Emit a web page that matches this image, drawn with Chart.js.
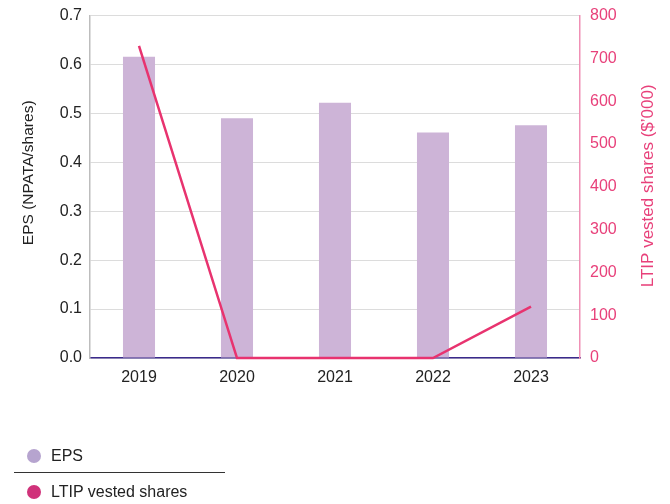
<!DOCTYPE html>
<html>
<head>
<meta charset="utf-8">
<script src="https://cdn.jsdelivr.net/npm/chart.js@4/dist/chart.umd.min.js"></script>
<style>
  html, body { margin: 0; padding: 0; background: #fff; }
  body { width: 670px; height: 504px; position: relative; overflow: hidden; font-family: "Liberation Sans", Arial, sans-serif; }
  #wrap { position: absolute; left: 0; top: -4px; width: 670px; height: 404px; }
  .legend { position: absolute; left: 0; top: 0; width: 670px; height: 504px; pointer-events: none; }
  .item { position: absolute; left: 27px; font-size: 16px; color: #222; display: flex; align-items: center; }
  .dot { width: 14px; height: 14px; border-radius: 50%; margin-right: 10px; }
  .sep { position: absolute; left: 14px; top: 472px; width: 211px; height: 1px; background: #333; }
</style>
</head>
<body>
<div id="wrap"><canvas id="c" width="670" height="404"></canvas></div>
<div class="legend">
  <div class="item" style="top:447px"><span class="dot" style="background:#b6a4cf"></span>EPS</div>
  <div class="sep"></div>
  <div class="item" style="top:483px"><span class="dot" style="background:#d0327a"></span>LTIP vested shares</div>
</div>
<script>
const years = ['2019', '2020', '2021', '2022', '2023'];
const eps = [0.616, 0.490, 0.522, 0.461, 0.476];
const ltipVested = [729, 0, 0, 0, 120];

const leftTitle = 'EPS (NPATA/shares)';
const rightTitle = 'LTIP vested shares ($\u2019000)';

const font = { family: '"Liberation Sans", Arial, sans-serif', size: 16 };

// Both axis titles read bottom-to-top, so they are painted here rather than by the scales.
const axisTitles = {
  id: 'axisTitles',
  afterDraw(chart) {
    const ctx = chart.ctx;
    const area = chart.chartArea;
    const mid = (area.top + area.bottom) / 2;
    ctx.save();
    ctx.textAlign = 'center';
    ctx.textBaseline = 'middle';
    [[29, mid - 14, '#222', 15.5, leftTitle], [648, mid - 1, '#e8407a', 17, rightTitle]].forEach(([x, y, c, sz, t]) => {
      ctx.save();
      ctx.translate(x, y);
      ctx.rotate(-Math.PI / 2);
      ctx.font = sz + 'px ' + font.family;
      ctx.fillStyle = c;
      ctx.fillText(t, 0, 0);
      ctx.restore();
    });
    ctx.restore();
  }
};

new Chart(document.getElementById('c'), {
  data: {
    labels: years,
    datasets: [
      {
        type: 'line',
        label: 'LTIP vested shares',
        data: ltipVested,
        yAxisID: 'yR',
        borderColor: '#e8336f',
        borderWidth: 2.5,
        pointRadius: 0,
        tension: 0,
        clip: false,
        order: 0
      },
      {
        type: 'bar',
        label: 'EPS',
        data: eps,
        yAxisID: 'yL',
        backgroundColor: '#cdb4d7',
        borderWidth: 0,
        categoryPercentage: 1,
        barPercentage: 0.327,
        order: 1
      }
    ]
  },
  plugins: [axisTitles],
  options: {
    responsive: false,
    animation: false,
    events: [],
    layout: { padding: { left: 0, right: 0, top: 1, bottom: 0 } },
    plugins: { legend: { display: false }, tooltip: { enabled: false } },
    scales: {
      x: {
        offset: true,
        grid: { display: false, drawTicks: false },
        border: { color: '#3b2a8c', width: 1.5 },
        ticks: { color: '#222', font: font, padding: 10 },
        afterFit: s => { s.height = 42; }
      },
      yL: {
        position: 'left',
        min: 0, max: 0.7,
        ticks: { stepSize: 0.1, color: '#222', font: font, padding: 8,
                 callback: v => Number(v).toFixed(1) },
        grid: { color: '#dcdcdc', lineWidth: 1, drawTicks: false },
        border: { color: '#bdbdbd', width: 1.5 },
        afterFit: s => { s.width = 90; }
      },
      yR: {
        position: 'right',
        min: 0, max: 800,
        ticks: { stepSize: 100, color: '#e8407a', font: font, padding: 10 },
        grid: { display: false, drawTicks: false },
        border: { color: '#f090b5', width: 1.5 },
        afterFit: s => { s.width = 90; }
      }
    }
  }
});
</script>
</body>
</html>
